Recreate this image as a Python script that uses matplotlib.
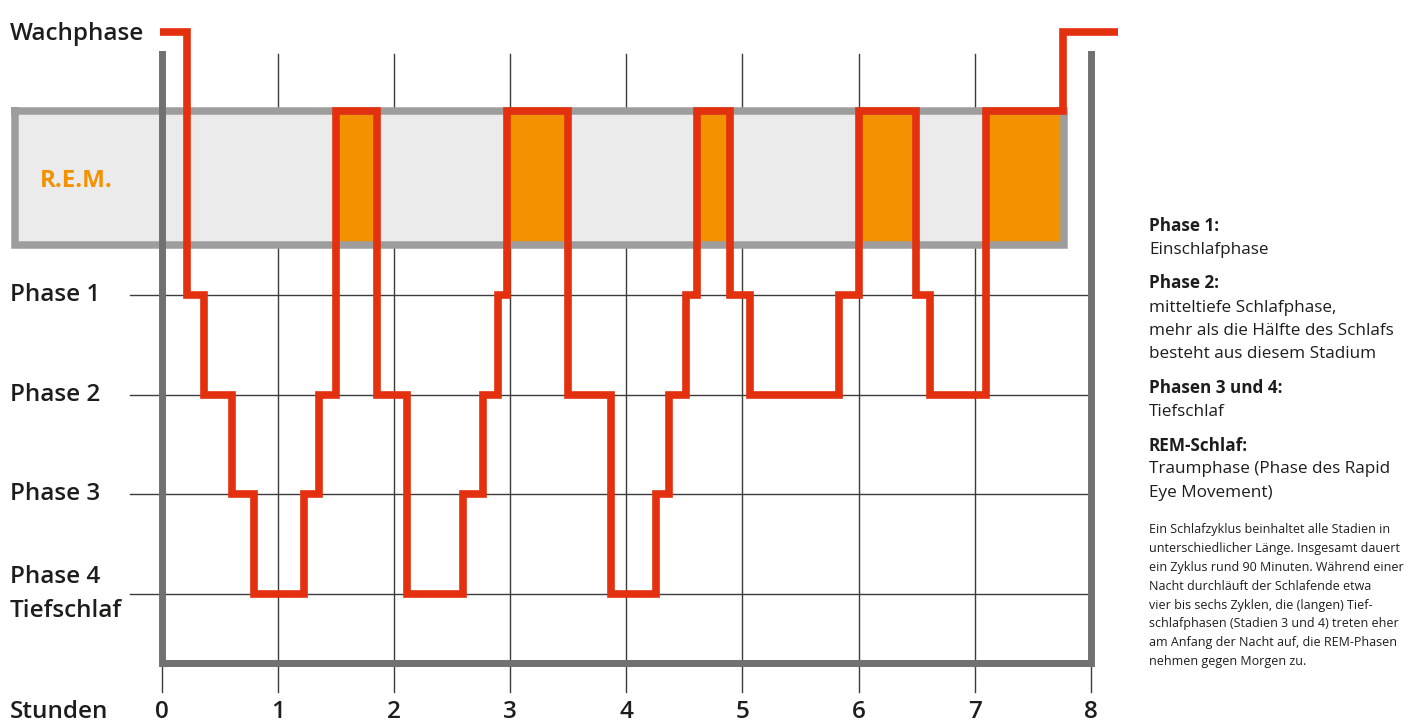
import matplotlib
matplotlib.use('Agg')
import matplotlib.pyplot as plt

# sleep profile: times (hours) where the stage changes, and the stage in each segment
t_start, t_end = -0.02, 8.234
t_change = [0.215, 0.358, 0.603, 0.792, 1.223, 1.352, 1.499, 1.852, 2.110,
            2.593, 2.765, 2.894, 2.972, 3.497, 3.867, 4.255, 4.367, 4.513,
            4.608, 4.892, 5.065, 5.831, 6.003, 6.494, 6.615, 7.097, 7.761]
stages = ['Wach', 'P1', 'P2', 'P3', 'P4', 'P3', 'P2', 'REM', 'P2', 'P4',
          'P3', 'P2', 'P1', 'REM', 'P2', 'P4', 'P3', 'P2', 'P1', 'REM',
          'P1', 'P2', 'P1', 'REM', 'P1', 'P2', 'REM', 'Wach']

hours = list(range(9))
stage_names = ['P1', 'P2', 'P3', 'P4']
stage_labels = ['Phase 1', 'Phase 2', 'Phase 3', 'Phase 4\nTiefschlaf']

notes = [('Phase 1:', 'bold'), ('Einschlafphase', 'normal'),
         ('Phase 2:', 'bold'), ('mitteltiefe Schlafphase,', 'normal'),
         ('mehr als die Hälfte des Schlafs', 'normal'),
         ('besteht aus diesem Stadium', 'normal'),
         ('Phasen 3 und 4:', 'bold'), ('Tiefschlaf', 'normal'),
         ('REM-Schlaf:', 'bold'), ('Traumphase (Phase des Rapid', 'normal'),
         ('Eye Movement)', 'normal')]
paragraph = ['Ein Schlafzyklus beinhaltet alle Stadien in',
             'unterschiedlicher Länge. Insgesamt dauert',
             'ein Zyklus rund 90 Minuten. Während einer',
             'Nacht durchläuft der Schlafende etwa',
             'vier bis sechs Zyklen, die (langen) Tief-',
             'schlafphasen (Stadien 3 und 4) treten eher',
             'am Anfang der Nacht auf, die REM-Phasen',
             'nehmen gegen Morgen zu.']

# vertical positions of the stages
level = {'Wach': 5.634, 'REM': 4.846, 'P1': 3, 'P2': 2, 'P3': 1, 'P4': 0}
band_bottom = 3.494
box_top, box_bottom, tick_bottom = 5.414, -0.692, -0.982

red = '#e3310f'
orange = '#f39200'
dark = '#1d1d1b'

fig = plt.figure(figsize=(14.1, 7.26), dpi=100)
ax = fig.add_axes([0, 0, 1, 1])
ax.set_xlim(-162 / 116.1, (1410 - 162) / 116.1)
ax.set_ylim((594 - 726) / 99.75, 594 / 99.75)
ax.axis('off')

# grid
for h in hours:
    ax.plot([h, h], [tick_bottom, box_top], color='#3c3c3c', lw=1.0, zorder=0)
for s in stage_names:
    ax.plot([-0.276, 8], [level[s], level[s]], color='#3c3c3c', lw=1.0, zorder=0)

# REM band
ax.fill_between([-1.262, 7.765], band_bottom, level['REM'], color='#ebebeb', lw=0, zorder=1)
x = [t_start] + t_change + [t_end]
for i, s in enumerate(stages):
    if s == 'REM':
        ax.fill_between([x[i], x[i + 1]], band_bottom, level['REM'], color=orange, lw=0, zorder=2)
ax.plot([-1.262, 7.765, 7.765, -1.262, -1.262],
        [level['REM'], level['REM'], band_bottom, band_bottom, level['REM']],
        color='#9d9d9d', lw=5.4, solid_joinstyle='miter', zorder=3)

# box
ax.plot([0, 0, 8, 8], [box_top, box_bottom, box_bottom, box_top],
        color='#717171', lw=5, solid_joinstyle='miter', zorder=4)

# hypnogram
y = [level[s] for s in stages] + [level[stages[-1]]]
ax.plot(x, y, drawstyle='steps-post', color=red, lw=5.5,
        solid_joinstyle='miter', solid_capstyle='butt', zorder=5)

# labels
big = dict(family='Open Sans', fontsize=17.5, fontweight='semibold', color=dark, va='center')
ax.text(-1.309, level['Wach'] - 0.02, 'Wachphase', ha='left', **big)
ax.text(-1.05, 4.14, 'R.E.M.', ha='left', **{**big, 'color': orange, 'fontweight': 'bold'})
for s, lab in zip(stage_names, stage_labels):
    ax.text(-1.309, level[s], lab, ha='left', linespacing=1.6, **big)
ax.text(-1.309, -1.183, 'Stunden', ha='left', **big)
for h in hours:
    ax.text(h, -1.183, str(h), ha='center', **big)

# notes on the right
def fpos(px, py):
    return px / 1410, 1 - py / 726

note_y = [226, 250, 283, 308, 331, 354, 388, 412, 446, 469, 493]
for (txt, w), py in zip(notes, note_y):
    fig.text(*fpos(1149, py), txt, family='Open Sans', fontsize=12.3,
             fontweight=w, color=dark, va='center', ha='left')
for i, txt in enumerate(paragraph):
    fig.text(*fpos(1149, 530 + 18.8 * i), txt, family='Open Sans', fontsize=9,
             color=dark, va='center', ha='left')

fig.savefig('out.png', dpi=100)
